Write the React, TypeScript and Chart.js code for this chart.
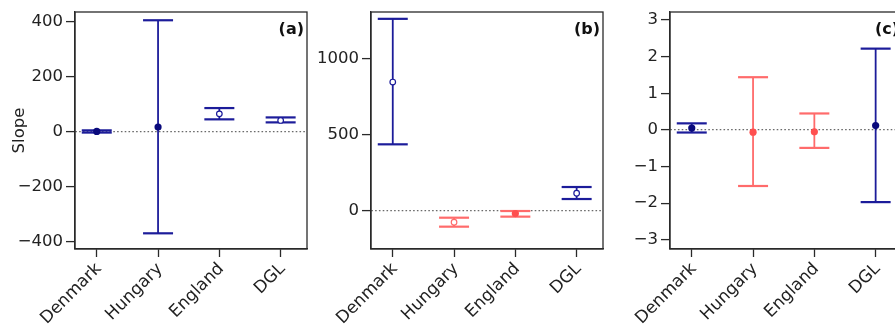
import React, { useEffect, useRef } from 'react';
import { Chart, registerables } from 'chart.js';

Chart.register(...registerables);

const categories = ['Denmark', 'Hungary', 'England', 'DGL'];

// Panel (a)
const aMid = [0, 16, 64, 40];
const aLow = [-4, -370, 44, 33];
const aHigh = [4, 404, 85, 51];
const aColor = ['blue', 'blue', 'blue', 'blue'];
const aHollow = [false, false, true, true];
const aTicks = [-400, -200, 0, 200, 400];

// Panel (b)
const bMid = [844, -79, -22, 112];
const bLow = [434, -108, -42, 74];
const bHigh = [1260, -49, -5, 153];
const bColor = ['blue', 'red', 'red', 'blue'];
const bHollow = [true, true, false, true];
const bTicks = [0, 500, 1000];

// Panel (c)
const cMid = [0.05, -0.06, -0.05, 0.12];
const cLow = [-0.07, -1.53, -0.49, -1.97];
const cHigh = [0.18, 1.44, 0.45, 2.22];
const cColor = ['blue', 'red', 'red', 'blue'];
const cHollow = [false, false, false, false];
const cTicks = [-3, -2, -1, 0, 1, 2, 3];

const LINE = { blue: '#1c1c9a', red: '#ff6b6b' } as Record<string, string>;
const DOT = { blue: '#0a0a7c', red: '#ff4f4f' } as Record<string, string>;
const FONT = "'DejaVu Sans', 'Liberation Sans', Arial, sans-serif";
const FRAME = '#2a2a2a';

type Panel = {
  label: string;
  mid: number[];
  low: number[];
  high: number[];
  color: string[];
  hollow: boolean[];
  ticks: number[];
  yMin: number;
  yMax: number;
  yTitle: string;
  axisWidth: number;
  left: number;
  width: number;
};

const panels: Panel[] = [
  { label: '(a)', mid: aMid, low: aLow, high: aHigh, color: aColor, hollow: aHollow, ticks: aTicks, yMin: -427, yMax: 434, yTitle: 'Slope', axisWidth: 75, left: 0, width: 310 },
  { label: '(b)', mid: bMid, low: bLow, high: bHigh, color: bColor, hollow: bHollow, ticks: bTicks, yMin: -255, yMax: 1305, yTitle: '', axisWidth: 61, left: 310, width: 296 },
  { label: '(c)', mid: cMid, low: cLow, high: cHigh, color: cColor, hollow: cHollow, ticks: cTicks, yMin: -3.25, yMax: 3.22, yTitle: '', axisWidth: 64, left: 606, width: 299 },
];

function PanelChart({ p }: { p: Panel }) {
  const ref = useRef<HTMLCanvasElement | null>(null);
  useEffect(() => {
    if (!ref.current) return;
    const boxPlugin = {
      id: 'boxPlugin',
      afterDraw(chart: any) {
        const { ctx, chartArea } = chart;
        ctx.save();
        ctx.setLineDash([]);
        ctx.strokeStyle = FRAME;
        ctx.lineWidth = 1.3;
        ctx.strokeRect(chartArea.left, chartArea.top, chartArea.right - chartArea.left, chartArea.bottom - chartArea.top);
        ctx.fillStyle = '#111';
        ctx.font = `bold 16px ${FONT}`;
        ctx.textAlign = 'right';
        ctx.textBaseline = 'alphabetic';
        ctx.fillText(p.label, chartArea.right - 3, chartArea.top + 22);
        ctx.restore();
      },
    };

    const pointDs = {
      data: p.mid.map((y, i) => ({ x: i, y })),
      showLine: false,
      pointStyle: 'circle',
      pointRadius: p.hollow.map((h) => (h ? 2.8 : 3.6)),
      pointBackgroundColor: p.hollow.map((h, i) => (h ? '#ffffff' : DOT[p.color[i]])),
      pointBorderColor: p.color.map((c) => LINE[c]),
      pointBorderWidth: p.hollow.map((h) => (h ? 1.2 : 0)),
    };
    const whiskers = p.mid.map((_, i) => ({
      data: [
        { x: i, y: p.low[i] },
        { x: i, y: p.high[i] },
      ],
      showLine: true,
      borderColor: LINE[p.color[i]],
      borderWidth: 1.8,
      pointStyle: 'line',
      pointRadius: 15,
      pointBorderWidth: 2.2,
      pointBorderColor: LINE[p.color[i]],
      pointBackgroundColor: LINE[p.color[i]],
    }));

    const chart = new Chart(ref.current, {
      type: 'scatter',
      data: { datasets: [pointDs, ...whiskers] as any },
      plugins: [boxPlugin],
      options: {
        animation: false,
        responsive: false,
        devicePixelRatio: 1,
        events: [],
        layout: { autoPadding: false, padding: { top: 12, right: 3, left: 0, bottom: 0 } },
        plugins: { legend: { display: false }, tooltip: { enabled: false } },
        scales: {
          x: {
            type: 'linear',
            min: -0.355,
            max: 3.43,
            afterBuildTicks: (s: any) => {
              s.ticks = categories.map((_, i) => ({ value: i }));
            },
            afterFit: (s: any) => {
              s.height = 75;
              s.paddingLeft = 0;
              s.paddingRight = 0;
            },
            ticks: {
              autoSkip: false,
              maxRotation: 45,
              minRotation: 45,
              padding: 2,
              labelOffset: 2,
              color: '#222',
              font: { family: FONT, size: 17 },
              callback: (v: any) => categories[v as number],
            },
            grid: {
              drawOnChartArea: false,
              drawTicks: true,
              tickLength: 8,
              tickColor: FRAME,
              tickWidth: 1.3,
            },
            border: { display: true, color: FRAME, width: 1.3 },
          },
          y: {
            type: 'linear',
            min: p.yMin,
            max: p.yMax,
            afterBuildTicks: (s: any) => {
              s.ticks = p.ticks.map((v) => ({ value: v }));
            },
            afterFit: (s: any) => {
              s.width = p.axisWidth;
              s.paddingTop = 0;
              s.paddingBottom = 0;
            },
            title: {
              display: !!p.yTitle,
              text: p.yTitle,
              color: '#222',
              font: { family: FONT, size: 16.5 },
              padding: { top: 10, bottom: 0 },
            },
            ticks: {
              padding: 3,
              color: '#222',
              font: { family: FONT, size: 16.5 },
              callback: (v: any) => String(v).replace('-', '\u2212'),
            },
            grid: {
              drawOnChartArea: true,
              drawTicks: true,
              color: (ctx: any) => (ctx.tick && ctx.tick.value === 0 ? '#6a6a6a' : 'rgba(0,0,0,0)'),
              lineWidth: 1.2,
              tickBorderDash: [],
              tickLength: 9,
              tickColor: FRAME,
              tickWidth: 1.3,
            } as any,
            border: { display: true, color: FRAME, width: 1.3, dash: [1.6, 2.2] },
          },
        },
      } as any,
    });
    return () => chart.destroy();
  }, [p]);

  return (
    <div style={{ position: 'absolute', left: p.left, top: 0, width: p.width, height: 324 }}>
      <canvas ref={ref} width={p.width} height={324} style={{ display: 'block' }} />
    </div>
  );
}

export default function App() {
  return (
    <div
      style={{
        position: 'absolute',
        left: 0,
        top: 0,
        width: 895,
        height: 324,
        overflow: 'hidden',
        background: '#ffffff',
      }}
    >
      {panels.map((p) => (
        <PanelChart key={p.label} p={p} />
      ))}
    </div>
  );
}
